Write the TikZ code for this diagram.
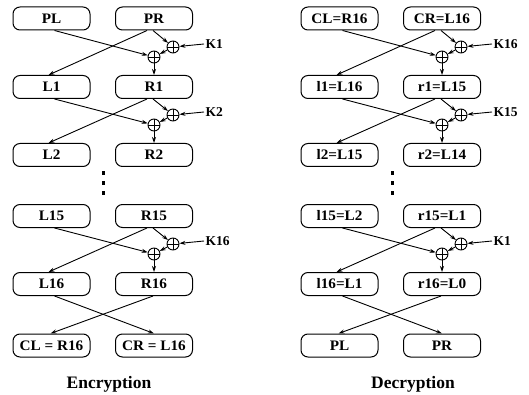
\documentclass[tikz,border=0pt]{standalone}
\usepackage{fontspec}
\setmainfont{Liberation Serif}
\newfontfamily\boxfont[FakeStretch=1.05]{Liberation Serif}
\usetikzlibrary{arrows.meta,calc}
\tikzset{
 blk/.style={draw, line width=1pt, rounded corners=7pt, minimum width=77pt, minimum height=23pt, inner sep=0pt, font=\boxfont\bfseries\fontsize{14.5}{14.5}\selectfont},
 xorn/.style={draw, circle, line width=0.9pt, minimum size=12pt, inner sep=0pt, path picture={\draw[line width=0.9pt] (path picture bounding box.north) -- (path picture bounding box.south) (path picture bounding box.west) -- (path picture bounding box.east);}},
 arr/.style={line width=0.9pt, -{Stealth[length=6pt,width=4pt]}},
 keyl/.style={anchor=west, inner sep=1.5pt, font=\bfseries\fontsize{13.5}{13.5}\selectfont},
 dotm/.style={fill, minimum width=3pt, minimum height=4pt, inner sep=0pt},
 ttl/.style={font=\bfseries\fontsize{17.5}{17.5}\selectfont}
}
\newcommand\fround[6]{%
 \node[xorn] (#5c) at ($(#4.north)+(0,-18)$) {};
 \node[xorn] (#5s) at ($(#5c)+(19,-10)$) {};
 \node[keyl] (#5k) at ($(#5s)+(31,-3)$) {#6};
 \coordinate (#5a) at ($(#2.south)+(-7,0)$);
 \coordinate (#5b) at ($(#2.south)+(-1,0)$);
 \coordinate (#5d) at ($(#1.south)+(3,0)$);
 \coordinate (#5e) at ($(#3.north)+(-3,0)$);
 \draw[arr] (#5a) -- (#5e);
 \draw[arr] (#5b) -- (#5s);
 \draw[arr] (#5d) -- (#5c);
 \draw[arr] (#5k.west) -- (#5s);
 \draw[arr] (#5s) -- (#5c);
 \draw[arr] (#5c) -- (#4.north);
}
\begin{document}
\begin{tikzpicture}[x=1pt,y=-1pt]
\useasboundingbox (0,0) rectangle (529,395);
% ---------------- Encryption ----------------
\node[blk] (ePL) at (51.5,18.5) {PL};
\node[blk] (ePR) at (154,18.5) {PR};
\node[blk] (eL1) at (51.5,87) {L1};
\node[blk] (eR1) at (154,87) {R1};
\node[blk] (eL2) at (51.5,155) {L2};
\node[blk] (eR2) at (154,155) {R2};
\node[blk] (eL15) at (51.5,216) {L15};
\node[blk] (eR15) at (154,216) {R15};
\node[blk] (eL16) at (51.5,284) {L16};
\node[blk] (eR16) at (154,284) {R16};
\node[blk] (eCL) at (51.5,345.5) {CL = R16};
\node[blk] (eCR) at (154,345.5) {CR = L16};
\fround{ePL}{ePR}{eL1}{eR1}{ea}{K1}
\fround{eL1}{eR1}{eL2}{eR2}{eb}{K2}
\fround{eL15}{eR15}{eL16}{eR16}{ec}{K16}
\coordinate (ef1) at ($(eL16.south)+(3,0)$);
\coordinate (ef2) at ($(eR16.south)+(-1,0)$);
\coordinate (ef3) at ($(eCL.north)+(-1,0)$);
\draw[arr] (ef1) -- (eCR.north);
\draw[arr] (ef2) -- (ef3);
\node[dotm] (ed1) at (103,173) {};
\node[dotm] (ed2) at (103,183) {};
\node[dotm] (ed3) at (103,193) {};
\node[ttl] (etitle) at (109,384) {Encryption};
% ---------------- Decryption ----------------
\node[blk] (dCL) at (339.5,18.5) {CL=R16};
\node[blk] (dCR) at (442,18.5) {CR=L16};
\node[blk] (dl1) at (339.5,87) {l1=L16};
\node[blk] (dr1) at (442,87) {r1=L15};
\node[blk] (dl2) at (339.5,155) {l2=L15};
\node[blk] (dr2) at (442,155) {r2=L14};
\node[blk] (dl15) at (339.5,216) {l15=L2};
\node[blk] (dr15) at (442,216) {r15=L1};
\node[blk] (dl16) at (339.5,284) {l16=L1};
\node[blk] (dr16) at (442,284) {r16=L0};
\node[blk] (dPL) at (339.5,345.5) {PL};
\node[blk] (dPR) at (442,345.5) {PR};
\fround{dCL}{dCR}{dl1}{dr1}{da}{K16}
\fround{dl1}{dr1}{dl2}{dr2}{db}{K15}
\fround{dl15}{dr15}{dl16}{dr16}{dc}{K1}
\coordinate (df1) at ($(dl16.south)+(3,0)$);
\coordinate (df2) at ($(dr16.south)+(-1,0)$);
\coordinate (df3) at ($(dPL.north)+(-1,0)$);
\draw[arr] (df1) -- (dPR.north);
\draw[arr] (df2) -- (df3);
\node[dotm] (dd1) at (392,173) {};
\node[dotm] (dd2) at (392,183) {};
\node[dotm] (dd3) at (392,193) {};
\node[ttl] (dtitle) at (413,384) {Decryption};
\end{tikzpicture}
\end{document}
